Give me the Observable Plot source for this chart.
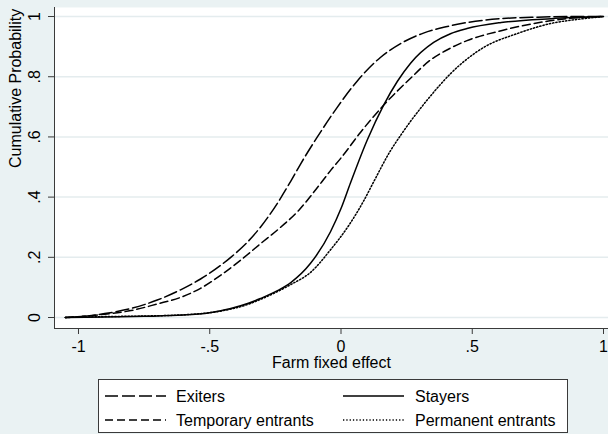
<!DOCTYPE html>
<html>
<head>
<meta charset="utf-8">
<script src="https://cdn.jsdelivr.net/npm/d3@7"></script>
<script src="https://cdn.jsdelivr.net/npm/@observablehq/plot@0.6"></script>
<style>
  html, body { margin: 0; padding: 0; background: #EAF2F3; }
  #wrap { position: relative; width: 608px; height: 434px; overflow: hidden; font-family: "Liberation Sans", Arial, sans-serif; }
  #chart { position: absolute; left: 0; top: 0; }
  #legend { position: absolute; left: 98px; top: 379px; width: 468px; height: 52px; background: #fff; border: 1px solid #3a3a3a; }
</style>
</head>
<body>
<div id="wrap"><div id="chart"></div><div id="legend"></div></div>
<script>
// ---- data ----
const seriesNames = ["Exiters", "Stayers", "Temporary entrants", "Permanent entrants"];

const exitersX = [-1.05, -0.95, -0.9, -0.8, -0.7, -0.611, -0.535, -0.42, -0.357, -0.307, -0.242, -0.19, -0.154, -0.09, -0.013, 0.063, 0.15, 0.227, 0.314, 0.4, 0.48, 0.61, 0.75, 0.9, 1.0];
const exitersY = [0, 0.007, 0.013, 0.03, 0.058, 0.092, 0.128, 0.2, 0.25, 0.3, 0.38, 0.455, 0.51, 0.6, 0.7, 0.787, 0.864, 0.91, 0.945, 0.966, 0.98, 0.993, 0.998, 1, 1];

const stayersX = [-1.05, -0.9, -0.75, -0.6, -0.5, -0.42, -0.35, -0.307, -0.24, -0.19, -0.116, -0.04, 0, 0.036, 0.1, 0.162, 0.215, 0.265, 0.353, 0.417, 0.48, 0.61, 0.8, 1.0];
const stayersY = [0, 0.002, 0.004, 0.008, 0.016, 0.03, 0.048, 0.063, 0.09, 0.117, 0.18, 0.285, 0.362, 0.447, 0.59, 0.705, 0.785, 0.845, 0.914, 0.943, 0.96, 0.98, 0.993, 1];

const tempX = [-1.05, -0.95, -0.9, -0.8, -0.7, -0.611, -0.535, -0.459, -0.383, -0.307, -0.23, -0.162, -0.105, -0.04, 0, 0.074, 0.162, 0.265, 0.34, 0.417, 0.48, 0.61, 0.73, 0.86, 0.95, 1.0];
const tempY = [0, 0.006, 0.011, 0.023, 0.045, 0.067, 0.097, 0.14, 0.19, 0.245, 0.3, 0.355, 0.415, 0.488, 0.53, 0.615, 0.705, 0.795, 0.855, 0.895, 0.92, 0.953, 0.976, 0.993, 0.998, 1];

const permX = [-1.05, -0.9, -0.75, -0.6, -0.5, -0.42, -0.35, -0.307, -0.24, -0.19, -0.116, -0.04, 0.025, 0.088, 0.124, 0.189, 0.227, 0.265, 0.303, 0.34, 0.417, 0.543, 0.67, 0.8, 0.925, 1.0];
const permY = [0, 0.003, 0.005, 0.009, 0.016, 0.028, 0.045, 0.06, 0.087, 0.11, 0.15, 0.225, 0.3, 0.39, 0.45, 0.555, 0.605, 0.652, 0.695, 0.735, 0.81, 0.897, 0.943, 0.977, 0.993, 1];

const xTicks = [-1, -0.5, 0, 0.5, 1];
const yTicks = [0, 0.2, 0.4, 0.6, 0.8, 1];
const xTitle = "Farm fixed effect";
const yTitle = "Cumulative Probability";

// ---- build ----
const dashes = {
  "Exiters": "13,4",
  "Stayers": null,
  "Temporary entrants": "8,4",
  "Permanent entrants": "1.3,2"
};
const toRows = (name, xs, ys) => xs.map((x, i) => ({name, x, y: ys[i]}));
const rows = {
  "Exiters": toRows("Exiters", exitersX, exitersY),
  "Stayers": toRows("Stayers", stayersX, stayersY),
  "Temporary entrants": toRows("Temporary entrants", tempX, tempY),
  "Permanent entrants": toRows("Permanent entrants", permX, permY)
};
const fmt = d => d === 0 ? "0" : String(d).replace("0.", ".");
const xDomain = [-1.0914, 1.019];
const yDomain = [-0.0365, 1.03];

const chart = Plot.plot({
  width: 608, height: 372,
  marginLeft: 54, marginRight: 0, marginTop: 7, marginBottom: 44,
  x: {domain: xDomain},
  y: {domain: yDomain},
  style: {background: "transparent", fontFamily: "'Liberation Sans', Arial, sans-serif", fontSize: "16px", color: "#000", overflow: "visible"},
  marks: [
    Plot.frame({fill: "white", stroke: null}),
    Plot.gridY(yTicks, {stroke: "#E4ECEE", strokeOpacity: 1, strokeWidth: 1.5}),
    Plot.ruleX([xDomain[0]], {stroke: "#3a3a3a", strokeWidth: 1}),
    Plot.ruleY([yDomain[0]], {stroke: "#3a3a3a", strokeWidth: 1}),
    Plot.axisX(xTicks, {tickSize: 6, tickPadding: 6, tickFormat: fmt, label: null, stroke: "#3a3a3a", fill: "#000"}),
    Plot.axisY(yTicks, {tickSize: 6, tickFormat: () => "", label: null, stroke: "#3a3a3a"}),
    Plot.text(yTicks, {y: d => d, text: fmt, frameAnchor: "left", dx: -19.5, rotate: -90, textAnchor: "middle", lineAnchor: "middle", fill: "#000"}),
    Plot.text([xTitle], {text: d => d, frameAnchor: "bottom", dy: 34, lineAnchor: "middle", fill: "#000"}),
    Plot.text([yTitle], {text: d => d, frameAnchor: "left", dx: -39, rotate: -90, lineAnchor: "middle", fill: "#000"}),
    ...seriesNames.map(n => Plot.line(rows[n], {x: "x", y: "y", stroke: "#000", strokeWidth: 1.5, strokeDasharray: dashes[n], curve: "monotone-x"}))
  ]
});
document.getElementById("chart").append(chart);

// ---- legend ----
const legendOrder = [["Exiters", 0, 0], ["Stayers", 1, 0], ["Temporary entrants", 0, 1], ["Permanent entrants", 1, 1]];
const lsvg = d3.select("#legend").append("svg").attr("width", 468).attr("height", 52)
  .style("font-family", "'Liberation Sans', Arial, sans-serif").style("font-size", "16px");
const colLine = [6, 244], colText = [77, 316], rowY = [16, 40];
legendOrder.forEach(([n, c, r]) => {
  lsvg.append("line").attr("x1", colLine[c]).attr("x2", colLine[c] + 61)
    .attr("y1", rowY[r]).attr("y2", rowY[r]).attr("stroke", "#000").attr("stroke-width", 1.5)
    .attr("stroke-dasharray", dashes[n] || null);
  lsvg.append("text").attr("x", colText[c]).attr("y", rowY[r]).attr("dy", "0.35em").attr("fill", "#000").text(n);
});
</script>
</body>
</html>
